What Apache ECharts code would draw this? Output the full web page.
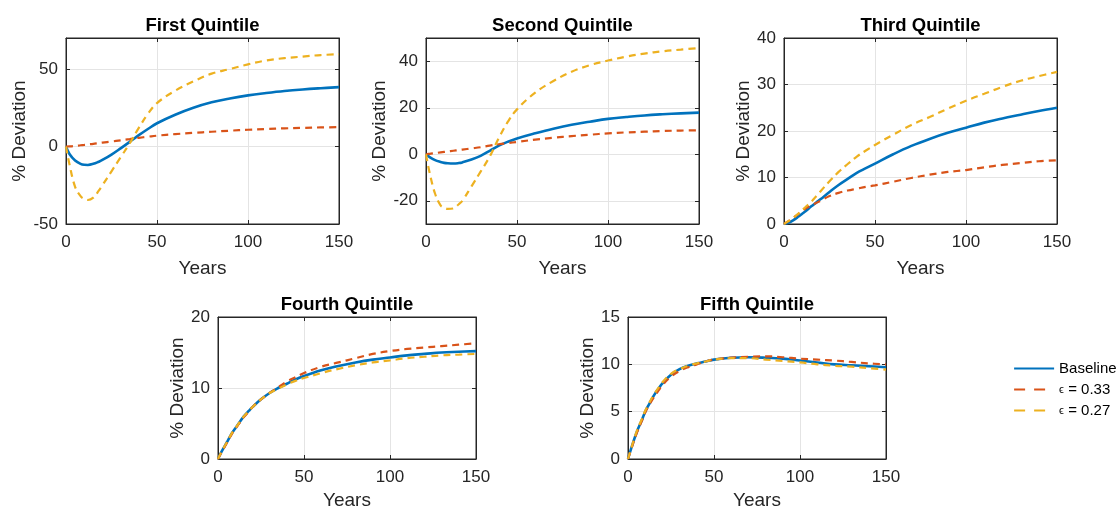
<!DOCTYPE html>
<html>
<head>
<meta charset="utf-8">
<script src="https://cdn.jsdelivr.net/npm/echarts@6/dist/echarts.min.js"></script>
<style>
html,body{margin:0;padding:0;background:#fff;}
#chart{width:1118px;height:512px;}
</style>
</head>
<body>
<div id="chart"></div>
<script>
const years = [0,2,5,8,10,12,15,18,20,25,30,35,40,45,50,60,70,80,90,100,110,120,130,140,150];

const q1Baseline = [0,-5,-9,-11.2,-11.8,-11.9,-11.2,-9.8,-8.7,-5.2,-1.2,3,7.3,11.3,15,20.5,25,28.5,31,33,34.5,35.8,36.8,37.6,38.3];
const q1Eps033   = [0,0.1,0.4,0.8,1,1.3,1.7,2.2,2.5,3.2,4,4.8,5.6,6.3,7,8,8.8,9.5,10.2,10.8,11.3,11.7,12,12.3,12.5];
const q1Eps027   = [0,-12,-26,-32,-33.8,-34.5,-33,-28.5,-25,-16,-7,2,12,21,28,36,42,47,50,53,55.5,57,58,59,59.5];

const q2Baseline = [0,-1.2,-2.5,-3.3,-3.7,-3.9,-4,-3.8,-3.5,-2.3,-0.7,1.5,3.7,5.4,6.8,9,11,12.7,14,15.2,16,16.7,17.2,17.6,17.9];
const q2Eps033   = [0,0.2,0.5,0.8,1,1.2,1.5,1.8,2,2.5,3,3.7,4.3,4.8,5.3,6.3,7.1,7.8,8.4,9,9.4,9.7,10,10.2,10.3];
const q2Eps027   = [0,-8,-17,-22,-23,-23.5,-23.3,-21.5,-20,-13.8,-7.5,-1,7,14,19.3,26.5,31.5,35.5,38.3,40.3,42,43.3,44.3,45,45.7];

const q3Baseline = [0,0.2,0.8,1.6,2.2,2.8,3.8,4.7,5.3,6.9,8.4,9.7,11,12,13,15,16.8,18.3,19.6,20.7,21.8,22.7,23.5,24.3,25];
const q3Eps033   = [0,0.5,1.3,2.2,2.8,3.4,4,4.6,5,6,6.7,7.2,7.6,8,8.3,9.1,9.9,10.6,11.2,11.6,12.2,12.7,13.1,13.5,13.7];
const q3Eps027   = [0,0.5,1.3,2.3,3,3.7,4.8,6.1,7,9.2,11.2,12.9,14.5,15.8,17,19.2,21.3,23,24.8,26.5,28,29.5,30.8,31.8,32.7];

const q4Baseline = [0,1,2.3,3.6,4.3,5,6,6.8,7.3,8.4,9.3,10,10.6,11.2,11.7,12.5,13.1,13.6,14,14.3,14.6,14.8,15,15.1,15.2];
const q4Eps033   = [0,0.9,2.2,3.5,4.2,4.9,5.9,6.7,7.3,8.4,9.3,10.1,10.9,11.5,12.1,13,13.6,14.2,14.8,15.2,15.5,15.7,15.9,16.1,16.3];
const q4Eps027   = [0,1,2.3,3.6,4.3,5,6,6.8,7.3,8.4,9.3,9.9,10.5,11,11.4,12.1,12.7,13.2,13.6,13.9,14.2,14.4,14.6,14.7,14.8];

const q5Baseline = [0,1.2,2.8,4.1,5,5.7,6.7,7.5,8,8.9,9.5,9.85,10.1,10.3,10.5,10.7,10.75,10.7,10.6,10.4,10.2,10,9.9,9.8,9.7];
const q5Eps033   = [0,1.1,2.7,4,4.9,5.6,6.5,7.3,7.8,8.7,9.3,9.7,10,10.3,10.5,10.7,10.8,10.85,10.75,10.6,10.5,10.4,10.25,10.1,10];
const q5Eps027   = [0,1.2,2.9,4.2,5.1,5.8,6.8,7.6,8.1,9,9.5,9.85,10.1,10.3,10.5,10.65,10.65,10.5,10.35,10.2,10,9.85,9.75,9.6,9.45];

const panelTitles = ['First Quintile','Second Quintile','Third Quintile','Fourth Quintile','Fifth Quintile'];
const seriesNames = ['Baseline','\u03F5 = 0.33','\u03F5 = 0.27'];
const panelData = [
  [q1Baseline,q1Eps033,q1Eps027],
  [q2Baseline,q2Eps033,q2Eps027],
  [q3Baseline,q3Eps033,q3Eps027],
  [q4Baseline,q4Eps033,q4Eps027],
  [q5Baseline,q5Eps033,q5Eps027]
];
const yMin = [-50,-30,0,0,0];
const yMax = [70,50,40,20,15];
const yTickValues = [[-50,0,50],[-20,0,20,40],[0,10,20,30,40],[0,10,20],[0,5,10,15]];
const xTickValues = [0,50,100,150];

// layout
const boxes = [
  {left:66, top:38, width:273, height:186, yGap:36, xGap:35},
  {left:426,top:38, width:273, height:186, yGap:36, xGap:35},
  {left:784,top:38, width:273, height:186, yGap:28, xGap:35},
  {left:218,top:317,width:258, height:142, yGap:29, xGap:32},
  {left:628,top:317,width:258, height:142, yGap:29, xGap:32}
];
const colors = ['#0072BD','#D95319','#EDB120'];
const FONT = '"Liberation Sans", Arial, Helvetica, sans-serif';
const axisColor = '#262626';
const gridColor = '#e4e4e4';

const grid = [], xAxis = [], yAxis = [], series = [], title = [];
boxes.forEach((b,i)=>{
  grid.push({left:b.left, top:b.top, width:b.width, height:b.height, show:true,
    borderColor:axisColor, borderWidth:1, backgroundColor:'#fff', containLabel:false});
  title.push({text:panelTitles[i], left:b.left + b.width/2, top:b.top - 22, textAlign:'center', padding:0,
    textStyle:{fontFamily:FONT, fontSize:18.5, fontWeight:'bold', color:'#000'}});
  xAxis.push({type:'value', gridIndex:i, min:0, max:150, position:'bottom',
    name:'Years', nameLocation:'middle', nameGap:b.xGap,
    nameTextStyle:{fontFamily:FONT, fontSize:19, color:axisColor},
    axisLine:{show:true, onZero:false, lineStyle:{color:axisColor}},
    axisTick:{show:true, inside:true, length:4, customValues:xTickValues, lineStyle:{color:axisColor}},
    axisLabel:{customValues:xTickValues, fontFamily:FONT, fontSize:17, color:axisColor, margin:10},
    splitLine:{show:true, lineStyle:{color:gridColor, width:1}}
  });
  xAxis.push({type:'value', gridIndex:i, min:0, max:150, position:'top',
    axisLine:{show:true, onZero:false, lineStyle:{color:axisColor}},
    axisTick:{show:true, inside:true, length:4, customValues:xTickValues, lineStyle:{color:axisColor}},
    axisLabel:{show:false}, splitLine:{show:false}
  });
  yAxis.push({type:'value', gridIndex:i, min:yMin[i], max:yMax[i], position:'left',
    name:'% Deviation', nameLocation:'middle', nameGap:b.yGap, nameRotate:90,
    nameTextStyle:{fontFamily:FONT, fontSize:19, color:axisColor},
    axisLine:{show:true, onZero:false, lineStyle:{color:axisColor}},
    axisTick:{show:true, inside:true, length:4, customValues:yTickValues[i], lineStyle:{color:axisColor}},
    axisLabel:{customValues:yTickValues[i], fontFamily:FONT, fontSize:17, color:axisColor, margin:8},
    splitLine:{show:true, lineStyle:{color:gridColor, width:1}}
  });
  yAxis.push({type:'value', gridIndex:i, min:yMin[i], max:yMax[i], position:'right',
    axisLine:{show:true, onZero:false, lineStyle:{color:axisColor}},
    axisTick:{show:true, inside:true, length:4, customValues:yTickValues[i], lineStyle:{color:axisColor}},
    axisLabel:{show:false}, splitLine:{show:false}
  });
  panelData[i].forEach((arr,k)=>{
    series.push({type:'line', name:seriesNames[k], xAxisIndex:2*i, yAxisIndex:2*i,
      data: years.map((x,j)=>[x, arr[j]]),
      showSymbol:false, symbol:'none', smooth:0.4, silent:true,
      lineStyle: k===0 ? {color:colors[k], width:2.6, type:'solid'}
                       : {color:colors[k], width:2.2, type:[7,5]},
      itemStyle:{color:colors[k]}, z: 2+k
    });
  });
});

const chart = echarts.init(document.getElementById('chart'), null, {renderer:'canvas'});
chart.setOption({
  animation:false,
  backgroundColor:'#fff',
  title,
  grid, xAxis, yAxis, series,
  legend:{
    data:[
      {name:seriesNames[0], lineStyle:{type:'solid', width:2.2}},
      {name:seriesNames[1], lineStyle:{type:[11,9], width:2.2}},
      {name:seriesNames[2], lineStyle:{type:[11,9], width:2.2}}
    ],
    orient:'vertical', left:1013, top:361, padding:0,
    itemWidth:40, itemHeight:12, itemGap:6,
    itemStyle:{opacity:0},
    formatter: n => n.replace('\u03F5','{e|\u03F5}'),
    textStyle:{fontFamily:FONT, fontSize:15, color:'#000',
      rich:{e:{fontFamily:FONT, fontSize:11, color:'#000'}}},
    selectedMode:false
  }
});
</script>
</body>
</html>
